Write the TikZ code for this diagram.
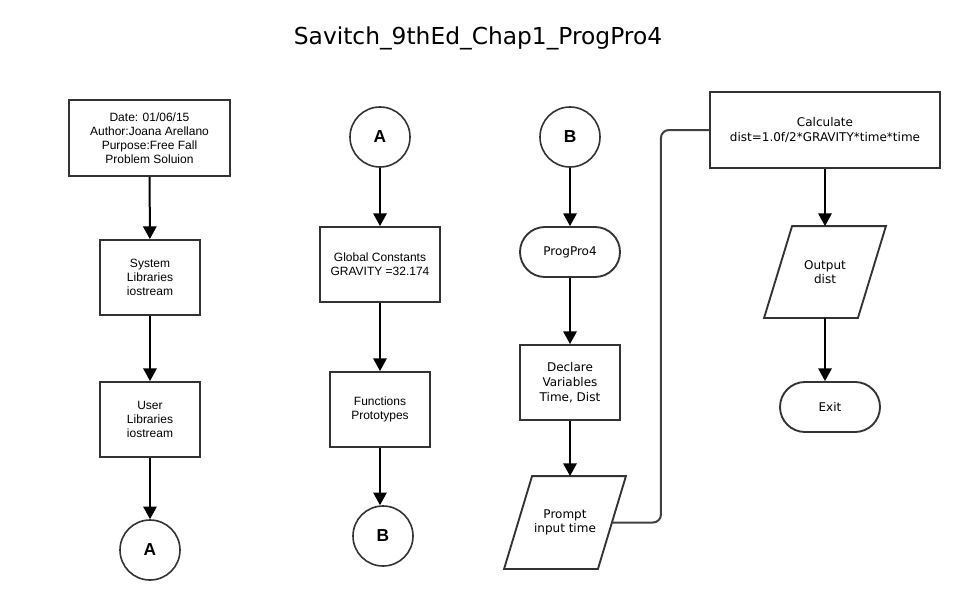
\documentclass[tikz,border=0pt]{standalone}
\usepackage{fontspec}
\setmainfont{Liberation Sans}
\newfontfamily\dejavu{DejaVu Sans}
\usetikzlibrary{arrows.meta}
\begin{document}
\begin{tikzpicture}[x=0.75pt,y=-0.75pt,
  box/.style={draw=black!80,line width=1.4pt,fill=white,align=center,inner sep=0pt,
    font=\fontsize{9}{10.5}\selectfont},
  vbox/.style={box,font=\dejavu\fontsize{9}{11}\selectfont},
  term/.style={vbox,rounded corners=18.75pt,minimum width=75pt,minimum height=37.5pt},
  para/.style={vbox,draw=none,fill=none,minimum width=90pt},
  paraline/.style={draw=black!80,line width=1.4pt,line join=miter},
  conn/.style={draw=black!80,line width=1.2pt,circle,minimum size=45pt,inner sep=0pt,
    font=\bfseries\fontsize{13}{15}\selectfont},
  arr/.style={line width=1.5pt,-{Triangle[width=10pt,length=9.5pt]}},
  link/.style={draw=black!75,line width=1.5pt,rounded corners=6pt}
]
\useasboundingbox (0,0) rectangle (963,600);
\node[font=\dejavu\fontsize{17.5}{20}\selectfont] (title) at (478,38) {Savitch\_9thEd\_Chap1\_ProgPro4};
% column 1
\node[box,minimum width=120.75pt,minimum height=57pt] (date) at (149.5,138)
  {Date: 01/06/15\\Author:Joana Arellano\\Purpose:Free Fall\\Problem Soluion};
\node[box,minimum width=75pt,minimum height=56.25pt] (sys) at (150,277.5) {System\\ Libraries\\ iostream};
\node[box,minimum width=75pt,minimum height=56.25pt] (usr) at (150,419.5) {User\\Libraries\\iostream};
\node[conn] (a1) at (150,550) {A};
% column 2
\node[conn] (a2) at (380,137) {A};
\node[box,minimum width=90pt,minimum height=56.25pt] (glob) at (380,264.5) {Global Constants\\GRAVITY =32.174};
\node[box,minimum width=75pt,minimum height=56.25pt] (func) at (380,409.5) {Functions\\Prototypes};
\node[conn] (b1) at (383,536) {B};
% column 3
\node[conn] (b2) at (570,137) {B};
\node[term] (prog) at (570,252) {ProgPro4};
\node[vbox,minimum width=75pt,minimum height=56.25pt] (decl) at (570,382.5) {Declare\\Variables\\ Time, Dist};
\node[para,minimum height=68.25pt] (prompt) at (565,522.5) {Prompt\\input time};
\draw[paraline] (prompt.south west) -- ([xshift=21pt]prompt.north west) -- (prompt.north east)
  -- ([xshift=-21pt]prompt.south east) -- cycle;
% column 4
\node[vbox,minimum width=172.5pt,minimum height=57pt] (calc) at (825,130)
  {Calculate\\dist=1.0f/2*GRAVITY*time*time};
\node[para,minimum height=67.5pt] (out) at (825,272) {Output\\ dist};
\draw[paraline] (out.south west) -- ([xshift=21pt]out.north west) -- (out.north east)
  -- ([xshift=-21pt]out.south east) -- cycle;
\node[term] (exit) at (830,407) {Exit};
% arrows
\draw[arr] (date) -- (sys);
\draw[arr] (sys) -- (usr);
\draw[arr] (usr) -- (a1);
\draw[arr] (a2) -- (glob);
\draw[arr] (glob) -- (func);
\draw[arr] (func.south) -- (func.south |- b1.north);
\draw[arr] (b2) -- (prog);
\draw[arr] (prog) -- (decl);
\draw[arr] (decl.south) -- (decl.south |- prompt.north);
\draw[link] ([xshift=-10.5pt]prompt.east) -- ++(49,0) |- (calc.west);
\draw[arr] (calc.south) -- (calc.south |- out.north);
\draw[arr] (out.south) -- (out.south |- exit.north);
\end{tikzpicture}
\end{document}
